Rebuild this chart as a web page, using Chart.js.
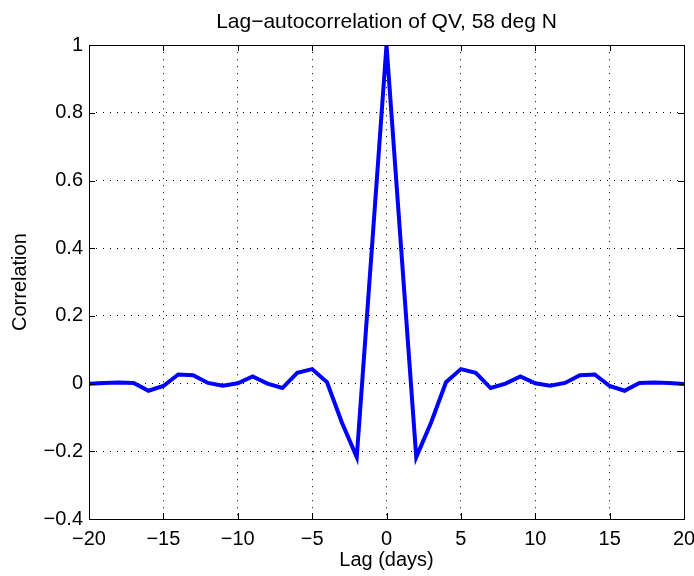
<!DOCTYPE html>
<html>
<head>
<meta charset="utf-8">
<script src="https://cdn.jsdelivr.net/npm/chart.js@4"></script>
<style>
  html, body { margin: 0; padding: 0; background: #fff; }
  #wrap { width: 694px; height: 576px; }
</style>
</head>
<body>
<div id="wrap"><canvas id="myChart" width="694" height="576"></canvas></div>
<script>
// data
const lags = [-20, -19, -18, -17, -16, -15, -14, -13, -12, -11, -10, -9, -8, -7, -6, -5, -4, -3, -2, -1,
    0, 1, 2, 3, 4, 5, 6, 7, 8, 9, 10, 11, 12, 13, 14, 15, 16, 17, 18, 19, 20];
const corr = [0.000, 0.002, 0.003, 0.002, -0.021, -0.007, 0.027, 0.025, 0.002, -0.006, 0.001, 0.021, 0.000,
    -0.013, 0.032, 0.043, 0.004, -0.115, -0.217, 0.390, 1.000, 0.390, -0.217, -0.115, 0.004, 0.043, 0.032,
    -0.013, 0.000, 0.021, 0.001, -0.006, 0.002, 0.025, 0.027, -0.007, -0.021, 0.002, 0.003, 0.002, -0.001];
const xTicks = [-20, -15, -10, -5, 0, 5, 10, 15, 20];
const yTicks = [-0.4, -0.2, 0, 0.2, 0.4, 0.6, 0.8, 1];

const FONT = "'Liberation Sans', Arial, sans-serif";
const fmt = v => String(Number(v.toFixed(1))).replace('-', '\u2212');

// matlab style box with inward ticks
const boxPlugin = {
    id: 'box',
    afterDraw(chart) {
        const c = chart.ctx;
        const a = chart.chartArea;
        const xs = chart.scales.x, ys = chart.scales.y;
        const len = 6;
        c.save();
        c.strokeStyle = '#000';
        c.lineWidth = 1;
        c.beginPath();
        xTicks.forEach(t => {
            const px = Math.round(xs.getPixelForValue(t)) + 0.5;
            c.moveTo(px, a.bottom); c.lineTo(px, a.bottom - len);
            c.moveTo(px, a.top); c.lineTo(px, a.top + len);
        });
        yTicks.forEach(t => {
            const py = Math.round(ys.getPixelForValue(t)) + 0.5;
            c.moveTo(a.left, py); c.lineTo(a.left + len, py);
            c.moveTo(a.right, py); c.lineTo(a.right - len, py);
        });
        c.stroke();
        c.strokeRect(Math.round(a.left) + 0.5, Math.round(a.top) + 0.5,
            Math.round(a.right - a.left), Math.round(a.bottom - a.top));
        c.restore();
    }
};

const ctx = document.getElementById('myChart');

new Chart(ctx, {
    type: 'line',
    data: {
        datasets: [{
            data: lags.map((x, i) => ({ x: x, y: corr[i] })),
            borderColor: '#0000ff',
            borderWidth: 4,
            pointRadius: 0,
            tension: 0,
            fill: false
        }]
    },
    options: {
        responsive: false,
        animation: false,
        layout: { padding: { top: 0, right: 0, left: 0, bottom: 0 } },
        plugins: {
            legend: { display: false },
            tooltip: { enabled: false },
            title: {
                display: true,
                text: 'Lag\u2212autocorrelation of QV, 58 deg N',
                fullSize: false,
                color: '#000',
                font: { family: FONT, size: 21, weight: 'normal' },
                padding: { top: 10, bottom: 10 }
            }
        },
        scales: {
            x: {
                type: 'linear',
                min: -20,
                max: 20,
                afterBuildTicks: s => { s.ticks = xTicks.map(v => ({ value: v })); },
                afterFit: s => { s.height = 57; s.paddingRight = 10; },
                grid: { color: '#000', lineWidth: 1, drawTicks: false },
                border: { display: false, dash: [1, 6] },
                ticks: {
                    color: '#000',
                    padding: 8,
                    maxRotation: 0,
                    font: { family: FONT, size: 20 },
                    callback: v => fmt(v)
                },
                title: {
                    display: true,
                    text: 'Lag (days)',
                    color: '#000',
                    font: { family: FONT, size: 20 },
                    padding: { top: 0, bottom: 4 }
                }
            },
            y: {
                min: -0.4,
                max: 1,
                afterBuildTicks: s => { s.ticks = yTicks.map(v => ({ value: v })); },
                afterFit: s => { s.width = 89; },
                grid: { color: '#000', lineWidth: 1, drawTicks: false },
                border: { display: false, dash: [1, 6] },
                ticks: {
                    color: '#000',
                    padding: 6,
                    font: { family: FONT, size: 20 },
                    callback: v => fmt(v)
                },
                title: {
                    display: true,
                    text: 'Correlation',
                    color: '#000',
                    font: { family: FONT, size: 20 },
                    padding: { top: 8, bottom: 0 }
                }
            }
        }
    },
    plugins: [boxPlugin]
});
</script>
</body>
</html>
